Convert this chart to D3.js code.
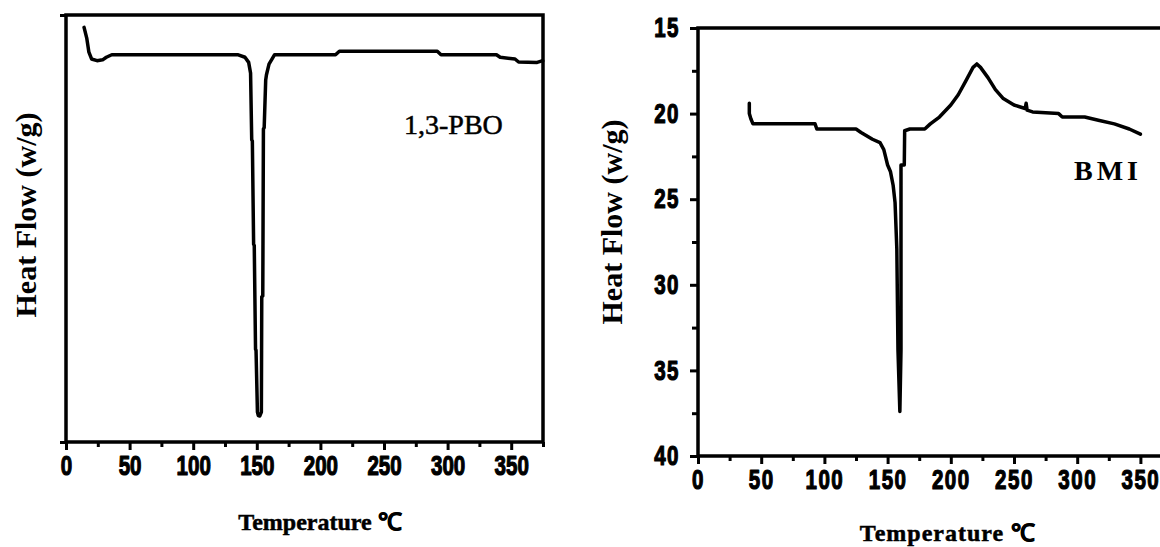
<!DOCTYPE html>
<html>
<head>
<meta charset="utf-8">
<script src="https://cdn.jsdelivr.net/npm/d3@7"></script>
<style>
  html, body { margin: 0; padding: 0; background: #fff; }
  svg { display: block; }
</style>
</head>
<body>
<svg id="chart" width="1160" height="547"></svg>
<script>
// ---------- data ----------
const xTickValues = [0, 50, 100, 150, 200, 250, 300, 350];
const xMinorValues = [25, 75, 125, 175, 225, 275, 325, 375];
const bmiYTickValues = [15, 20, 25, 30, 35, 40];
const bmiYMinorValues = [17.5, 22.5, 27.5, 32.5, 37.5];

// 1,3-PBO DSC curve (arbitrary heat-flow units, 0 = bottom of frame, 100 = top)
const pboTemp = [14.2, 16.3, 18.0, 20.1, 24.4, 28.8, 31.7, 36.0, 134.9, 140.7, 143.6, 145.1, 146.0, 146.5, 147.5, 148.0, 149.0, 149.4, 150.5, 151.2, 152.3, 153.6, 153.9, 154.7, 155.2, 155.8, 157.0, 157.6, 159.6, 164.0, 211.9, 214.9, 291.9, 294.8, 338.4, 341.3, 353.0, 355.8, 370.4, 374.8];
const pboFlow = [97.1, 94.6, 91.3, 89.7, 89.3, 89.5, 90.1, 90.7, 90.7, 90.1, 88.9, 86.4, 70.8, 70.5, 46.3, 46.0, 21.7, 21.5, 7.0, 6.2, 6.1, 7.0, 34.0, 34.2, 73.3, 73.6, 84.8, 86.0, 88.5, 90.7, 90.7, 91.5, 91.5, 90.7, 90.7, 90.1, 89.7, 89.0, 88.9, 89.3];

// BMI DSC curve (Heat Flow, w/g)
const bmiTemp = [40.6, 40.6, 41.8, 43.5, 92.6, 94.0, 125.0, 129.0, 138.0, 144.0, 147.0, 150.0, 152.3, 154.4, 155.9, 157.3, 158.2, 159.7, 160.6, 160.6, 163.2, 163.5, 167.6, 179.4, 183.8, 191.0, 200.0, 205.9, 211.8, 217.6, 220.6, 223.5, 229.4, 235.3, 241.2, 250.0, 258.8, 259.6, 260.4, 264.7, 285.3, 288.2, 305.9, 317.6, 329.4, 341.2, 350.0];
const bmiFlow = [19.4, 20.0, 20.3, 20.6, 20.6, 20.9, 20.9, 21.1, 21.5, 21.7, 22.1, 23.0, 23.4, 24.2, 25.2, 27.9, 33.8, 37.4, 33.8, 23.0, 23.0, 21.0, 20.9, 20.9, 20.6, 20.2, 19.5, 18.9, 18.1, 17.3, 17.1, 17.3, 17.9, 18.6, 19.1, 19.5, 19.7, 19.4, 19.8, 19.9, 20.0, 20.2, 20.2, 20.4, 20.6, 20.9, 21.2];

// ---------- drawing ----------
const svg = d3.select("#chart");
svg.append("rect").attr("width", 1160).attr("height", 547).attr("fill", "#fff");

const tickFont = "'Liberation Sans', Arial, sans-serif";
const serif = "'Liberation Serif', 'Times New Roman', serif";
const AXW = 3.5;
const SX = 0.76;

function styleAxis(g, opts) {
  opts = opts || {};
  g.select(".domain").remove();
  g.selectAll(".tick line").attr("stroke", "#000").attr("stroke-width", 3);
  g.selectAll(".tick text")
    .attr("fill", "#000")
    .attr("stroke", "#000")
    .attr("stroke-width", 1.2)
    .attr("stroke-linejoin", "round")
    .style("font-family", tickFont)
    .style("font-weight", "bold")
    .style("font-size", "27px")
    .style("letter-spacing", opts.ls || "0px")
    .each(function () {
      const t = d3.select(this);
      const x = +t.attr("x") || 0;
      // condense glyphs horizontally while keeping the anchor position
      t.attr("x", x / SX).attr("transform", `scale(${SX},1)`);
    });
}

// ===== Left panel: 1,3-PBO =====
const L = { x0: 66, x1: 543, y0: 15, y1: 442 };
const xL = d3.scaleLinear().domain([0, 375]).range([L.x0, L.x1]);
const yL = d3.scaleLinear().domain([0, 100]).range([L.y1, L.y0]);

const gxLmin = svg.append("g").attr("transform", `translate(0,${L.y1})`)
  .call(d3.axisBottom(xL).tickValues(xMinorValues).tickSize(5).tickFormat(""));
styleAxis(gxLmin);
const gxL = svg.append("g").attr("transform", `translate(0,${L.y1})`)
  .call(d3.axisBottom(xL).tickValues(xTickValues).tickSize(8).tickPadding(6).tickFormat(d3.format("d")));
styleAxis(gxL);
const gyL = svg.append("g").attr("transform", `translate(${L.x0},0)`)
  .call(d3.axisLeft(yL).tickValues([0, 100]).tickSize(6).tickFormat(""));
styleAxis(gyL);

svg.append("rect").attr("x", L.x0).attr("y", L.y0)
  .attr("width", L.x1 - L.x0).attr("height", L.y1 - L.y0)
  .attr("fill", "none").attr("stroke", "#000").attr("stroke-width", AXW);

const lineL = d3.line().x((d, i) => xL(pboTemp[i])).y((d, i) => yL(pboFlow[i]));
svg.append("path").datum(pboTemp).attr("d", lineL)
  .attr("fill", "none").attr("stroke", "#000").attr("stroke-width", 3.5)
  .attr("stroke-linejoin", "round").attr("stroke-linecap", "round");

svg.append("text").attr("x", 404).attr("y", 134)
  .style("font-family", serif).style("font-size", "28px")
  .attr("stroke", "#000").attr("stroke-width", 0.5).text("1,3-PBO");

svg.append("text").attr("transform", `translate(36,215) rotate(-90)`)
  .attr("text-anchor", "middle")
  .style("font-family", serif).style("font-weight", "bold").style("font-size", "30px")
  .text("Heat Flow (w/g)");

svg.append("text").attr("x", 320).attr("y", 530).attr("text-anchor", "middle")
  .style("font-family", serif).style("font-weight", "bold").style("font-size", "24px")
  .attr("stroke", "#000").attr("stroke-width", 0.5)
  .text("Temperature ℃");

// ===== Right panel: BMI =====
const R = { x0: 698, x1: 1172, y0: 28, y1: 456 };
const xR = d3.scaleLinear().domain([0, 375]).range([R.x0, R.x1]);
const yR = d3.scaleLinear().domain([15, 40]).range([R.y0, R.y1]);

const gxRmin = svg.append("g").attr("transform", `translate(0,${R.y1})`)
  .call(d3.axisBottom(xR).tickValues(xMinorValues).tickSize(5).tickFormat(""));
styleAxis(gxRmin);
const gxR = svg.append("g").attr("transform", `translate(0,${R.y1})`)
  .call(d3.axisBottom(xR).tickValues(xTickValues).tickSize(8).tickPadding(6).tickFormat(d3.format("d")));
styleAxis(gxR, { ls: "2px" });
const gyRmin = svg.append("g").attr("transform", `translate(${R.x0},0)`)
  .call(d3.axisLeft(yR).tickValues(bmiYMinorValues).tickSize(6).tickFormat(""));
styleAxis(gyRmin);
const gyR = svg.append("g").attr("transform", `translate(${R.x0},0)`)
  .call(d3.axisLeft(yR).tickValues(bmiYTickValues).tickSize(8).tickPadding(10).tickFormat(d3.format("d")));
styleAxis(gyR, { ls: "2px" });

svg.append("rect").attr("x", R.x0).attr("y", R.y0)
  .attr("width", R.x1 - R.x0).attr("height", R.y1 - R.y0)
  .attr("fill", "none").attr("stroke", "#000").attr("stroke-width", AXW);

const lineR = d3.line().x((d, i) => xR(bmiTemp[i])).y((d, i) => yR(bmiFlow[i]));
svg.append("path").datum(bmiTemp).attr("d", lineR)
  .attr("fill", "none").attr("stroke", "#000").attr("stroke-width", 3.5)
  .attr("stroke-linejoin", "round").attr("stroke-linecap", "round");

svg.append("text").attr("x", 1074).attr("y", 180)
  .style("font-family", serif).style("font-weight", "bold").style("font-size", "28px")
  .style("letter-spacing", "4px").text("BMI");

svg.append("text").attr("transform", `translate(622,222) rotate(-90)`)
  .attr("text-anchor", "middle")
  .style("font-family", serif).style("font-weight", "bold").style("font-size", "30px")
  .text("Heat Flow (w/g)");

svg.append("text").attr("x", 948).attr("y", 541).attr("text-anchor", "middle")
  .style("font-family", serif).style("font-weight", "bold").style("font-size", "24px")
  .style("letter-spacing", "1px")
  .attr("stroke", "#000").attr("stroke-width", 0.5)
  .text("Temperature ℃");
</script>
</body>
</html>
